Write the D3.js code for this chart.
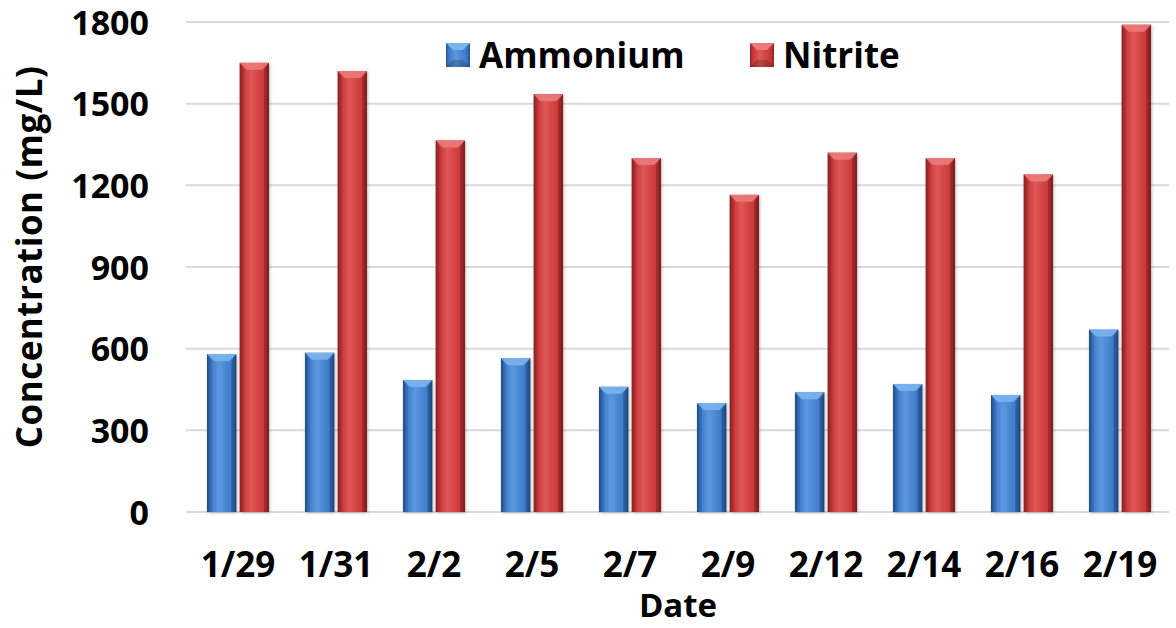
<!DOCTYPE html>
<html><head><meta charset="utf-8">
<script src="https://cdn.jsdelivr.net/npm/d3@7"></script>
<style>body{margin:0;background:#fff}svg{display:block}text{font-family:"Open Sans",sans-serif;font-weight:bold;fill:#000}</style>
</head><body><svg id="c" width="1176" height="628"></svg>
<script>
const categories = ["1/29","1/31","2/2","2/5","2/7","2/9","2/12","2/14","2/16","2/19"];
const ammonium = [580,585,485,565,460,400,440,470,430,670];
const nitrite = [1650,1620,1365,1535,1300,1165,1320,1300,1240,1790];
const seriesNames = ["Ammonium","Nitrite"];
const yTicks = [0,300,600,900,1200,1500,1800];

const svg = d3.select("#c");
const m={left:189,right:1169,top:22,bottom:512};
const x = d3.scaleBand().domain(categories).range([m.left,m.right]).paddingInner(0.3).paddingOuter(0.15);
const x1 = d3.scaleBand().domain(seriesNames).range([0,x.bandwidth()]).padding(0.1);
const y = d3.scaleLinear().domain([0,1800]).range([m.bottom,m.top]);
const FONT = '"Open Sans",sans-serif';

const defs = svg.append("defs");
const cols = {Ammonium:{base:"#3b79c9",light:"#5b98de",dark:"#25528f"},Nitrite:{base:"#cb3636",light:"#df5757",dark:"#8f2525"}};
seriesNames.forEach((s,i)=>{
  const g = defs.append("linearGradient").attr("id","g"+i).attr("x1","0").attr("x2","1").attr("y1","0").attr("y2","0");
  g.append("stop").attr("offset","0").attr("stop-color",cols[s].dark);
  g.append("stop").attr("offset","0.12").attr("stop-color",cols[s].base);
  g.append("stop").attr("offset","0.4").attr("stop-color",cols[s].light);
  g.append("stop").attr("offset","0.85").attr("stop-color",cols[s].base);
  g.append("stop").attr("offset","1").attr("stop-color",cols[s].dark);
});
const f = defs.append("filter").attr("id","sh").attr("x","-20%").attr("y","-5%").attr("width","140%").attr("height","110%");
f.append("feDropShadow").attr("dx",1).attr("dy",1).attr("stdDeviation",1.5).attr("flood-color","#000").attr("flood-opacity",0.25);

// gridlines
svg.append("g").selectAll("line").data(yTicks).join("line")
  .attr("x1",m.left-3).attr("x2",m.right).attr("y1",d=>y(d)).attr("y2",d=>y(d))
  .attr("stroke","#d9d9d9").attr("stroke-width",2);

// y axis labels
const yAxis = d3.axisLeft(y).tickValues(yTicks).tickFormat(d3.format("d")).tickSize(0).tickPadding(0);
const ya = svg.append("g").attr("transform",`translate(149,0)`).call(yAxis);
ya.select(".domain").remove();
ya.selectAll("text").style("font-size","34px").style("font-family",FONT).style("font-weight","bold").attr("fill","#000").attr("dy","0.36em");

// x axis labels
const xAxis = d3.axisBottom(x).tickSize(0).tickPadding(0);
const xa = svg.append("g").attr("transform",`translate(0,552)`).call(xAxis);
xa.select(".domain").remove();
xa.selectAll("text").style("font-size","35px").style("font-family",FONT).style("font-weight","bold").attr("fill","#000").attr("dy","0.71em");

const data = categories.map((c,i)=>({c,vals:[{s:"Ammonium",v:ammonium[i],k:0},{s:"Nitrite",v:nitrite[i],k:1}]}));
const groups = svg.append("g").selectAll("g").data(data).join("g").attr("transform",d=>`translate(${x(d.c)},0)`);
const bars = groups.selectAll("g").data(d=>d.vals).join("g");
bars.append("rect").attr("x",d=>x1(d.s)).attr("width",x1.bandwidth()).attr("y",d=>y(d.v)).attr("height",d=>y(0)-y(d.v))
  .attr("fill",d=>`url(#g${d.k})`).attr("filter","url(#sh)");
bars.append("path").attr("d",d=>{const x0=x1(d.s),w=x1.bandwidth(),t=y(d.v),b=7;return `M${x0},${t}L${x0+w},${t}L${x0+w-b},${t+b}L${x0+b},${t+b}Z`;})
  .attr("fill",d=>d.k?"#ec7a7a":"#7cb4ee").attr("opacity",0.9);
bars.append("path").attr("d",d=>{const x0=x1(d.s),w=x1.bandwidth(),t=y(d.v),b=5;return `M${x0},${t}L${x0+b},${t+b+2}L${x0+b},${y(0)}L${x0},${y(0)}Z`;})
  .attr("fill","#000").attr("opacity",0.1);
bars.append("path").attr("d",d=>{const x0=x1(d.s),w=x1.bandwidth(),t=y(d.v),b=5;return `M${x0+w},${t}L${x0+w-b},${t+b+2}L${x0+w-b},${y(0)}L${x0+w},${y(0)}Z`;})
  .attr("fill","#000").attr("opacity",0.18);

// legend
const leg = svg.append("g");
const legX=[446,750];
seriesNames.forEach((s,i)=>{
  const g=leg.append("g").attr("transform",`translate(${legX[i]},43)`);
  g.append("rect").attr("width",24).attr("height",24).attr("fill",`url(#g${i})`);
  g.append("path").attr("d","M0,0L24,0L17,7L7,7Z").attr("fill",i?"#ec7a7a":"#7cb4ee");
  g.append("path").attr("d","M0,24L24,24L17,17L7,17Z").attr("fill","#000").attr("opacity",0.2);
  g.append("text").attr("x",33).attr("y",25).style("font-size","35px").text(s);
});

// axis titles
svg.append("text").attr("transform","translate(42,257) rotate(-90)").attr("text-anchor","middle").style("font-size","35px").style("letter-spacing","0.5px").text("Concentration (mg/L)");
svg.append("text").attr("x",678).attr("y",617).attr("text-anchor","middle").style("font-size","33px").text("Date");
</script></body></html>
